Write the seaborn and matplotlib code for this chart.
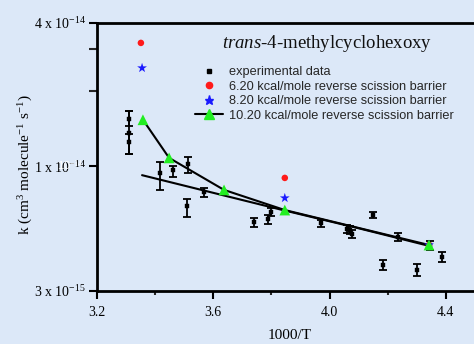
import numpy as np
import pandas as pd
import seaborn as sns
import matplotlib
matplotlib.use("Agg")
import matplotlib.pyplot as plt
from matplotlib.ticker import FixedLocator, NullFormatter
from matplotlib.lines import Line2D

# experimental rate constants (1000/T, k in 1e-15 cm3 molecule-1 s-1)
exp_x = [3.31, 3.31, 3.31, 3.417, 3.461, 3.513, 3.51, 3.568, 3.74, 3.788, 3.798,
         3.97, 4.06, 4.07, 4.077, 4.149, 4.183, 4.235, 4.30, 4.345, 4.386]
exp_k = [15.8, 13.8, 12.7, 9.4, 9.67, 10.2, 6.83, 7.82, 5.84, 6.0, 6.44,
         5.78, 5.46, 5.4, 5.2, 6.26, 3.86, 5.05, 3.68, 4.68, 4.17]
exp_up = [1.3, 3.3, 1.0, 1.0, 0.4, 0.74, 0.47, 0.3, 0.25, 0.25, 0.25,
          0.2, 0.2, 0.2, 0.2, 0.2, 0.2, 0.2, 0.2, 0.2, 0.2]
exp_dn = [1.0, 2.5, 1.4, 1.4, 0.6, 0.8, 0.68, 0.4, 0.25, 0.25, 0.25,
          0.2, 0.2, 0.2, 0.2, 0.2, 0.2, 0.2, 0.2, 0.2, 0.2]

# model curves
b620_x = [3.351, 3.846, 4.342]
b620_k = [33.0, 8.95, 4.68]
b820_x = [3.355, 3.846, 4.342]
b820_k = [25.9, 7.37, 4.68]
b1020_x = [3.358, 3.448, 3.637, 3.846, 4.342]
b1020_k = [15.7, 10.86, 7.97, 6.56, 4.68]

# Arrhenius fit through experimental data
fit_x = [3.355, 3.83, 4.10, 4.342]
fit_k = [9.19, 6.6, 5.5, 4.64]

scale = 1e-15
bg = "#dce8f8"

sns.set_theme(style="ticks")
plt.rcParams["font.family"] = ["Liberation Serif", "DejaVu Serif"]
plt.rcParams["mathtext.fontset"] = "custom"
plt.rcParams["mathtext.rm"] = "Liberation Serif"
plt.rcParams["mathtext.it"] = "Liberation Serif:italic"

fig = plt.figure(figsize=(4.74, 3.44), dpi=100, facecolor=bg)
ax = fig.add_axes([97 / 474, 53 / 344, 407 / 474, 268 / 344])
ax.set_facecolor(bg)

ax.set_yscale("log")
ax.set_xlim(3.2, 4.6)
ax.set_ylim(3e-15, 4e-14)

# fit line and 10.20 barrier line
sns.lineplot(x=fit_x, y=np.array(fit_k) * scale, ax=ax, color="black", lw=1.5,
             sort=False, legend=False)
sns.lineplot(x=b1020_x, y=np.array(b1020_k) * scale, ax=ax, color="black", lw=1.5,
             sort=False, legend=False)

# experimental data with error bars
ek = np.array(exp_k) * scale
ax.errorbar(exp_x, ek, yerr=[np.array(exp_dn) * scale, np.array(exp_up) * scale],
            fmt="none", ecolor="black", elinewidth=1.3, capsize=3, capthick=1.3, zorder=3)
sns.scatterplot(x=exp_x, y=ek, ax=ax, marker="s", s=12, color="black",
                edgecolor="black", zorder=4, legend=False)

sns.scatterplot(x=b620_x, y=np.array(b620_k) * scale, ax=ax, marker="o", s=22,
                color="#ff1a1a", edgecolor="none", zorder=5, legend=False)
sns.scatterplot(x=b820_x, y=np.array(b820_k) * scale, ax=ax, marker="*", s=55,
                color="#1a1aff", edgecolor="none", zorder=5, legend=False)
sns.scatterplot(x=b1020_x, y=np.array(b1020_k) * scale, ax=ax, marker="^", s=60,
                color="#22ee22", edgecolor="none", zorder=6, legend=False)

# axes styling
for side in ["left", "bottom", "top"]:
    ax.spines[side].set_linewidth(2)
    ax.spines[side].set_color("black")
ax.spines["right"].set_visible(False)

ax.xaxis.set_major_locator(FixedLocator([3.2, 3.6, 4.0, 4.4]))
ax.xaxis.set_minor_locator(FixedLocator([3.4, 3.8, 4.2]))
ax.set_xticklabels(["3.2", "3.6", "4.0", "4.4"])
ax.yaxis.set_major_locator(FixedLocator([3e-15, 1e-14, 4e-14]))
ax.yaxis.set_minor_locator(FixedLocator([2.07e-14, 3.1e-14]))
ax.yaxis.set_minor_formatter(NullFormatter())
ax.set_yticklabels([r"3 x 10$^{-15}$", r"1 x 10$^{-14}$", r"4 x 10$^{-14}$"])
ax.tick_params(axis="both", which="major", direction="out", length=6, width=1.5,
               labelsize=10, colors="black", pad=2)
ax.tick_params(axis="x", which="minor", direction="out", length=3, width=1.5)
ax.tick_params(axis="y", which="minor", direction="out", length=6, width=1.5)
ax.tick_params(axis="x", which="major", pad=5)

ax.set_xlabel("1000/T", fontsize=11, color="black")
ax.xaxis.set_label_coords((290 - 97) / 407, -0.14)
ax.set_ylabel(r"k (cm$^{3}$ molecule$^{-1}$ s$^{-1}$)", fontsize=11, color="black")
ax.yaxis.set_label_coords(-0.152, 0.47)

# stray default label from the original software
fig.text(70 / 474, 1 - 166 / 344, r"10$^{-14}$", color="white", fontsize=8,
         ha="center", va="center", family="Liberation Sans")

fig.text(327 / 474, 1 - 44 / 344, r"$\it{trans}$-4-methylcyclohexoxy",
         fontsize=13.5, ha="center", va="center", color="#111111")

handles = [
    Line2D([], [], ls="none", marker="s", ms=3.5, color="black"),
    Line2D([], [], ls="none", marker="o", ms=4.5, color="#ff1a1a"),
    Line2D([], [], ls="none", marker="*", ms=6.5, color="#1a1aff"),
    Line2D([], [], ls="-", lw=1.5, marker="^", ms=7, color="black",
           markerfacecolor="#22ee22", markeredgecolor="#22ee22"),
]
labels = ["experimental data",
          "6.20 kcal/mole reverse scission barrier",
          "8.20 kcal/mole reverse scission barrier",
          "10.20 kcal/mole reverse scission barrier"]
fig.legend(handles, labels, loc="upper left", bbox_to_anchor=(195 / 474, 1 - 66 / 344),
           frameon=False, prop={"family": "Liberation Sans", "size": 9.2},
           handlelength=2.2, handletextpad=0.45, labelspacing=0.2, borderpad=0,
           borderaxespad=0)

fig.savefig("out.png", dpi=100, facecolor=bg)
